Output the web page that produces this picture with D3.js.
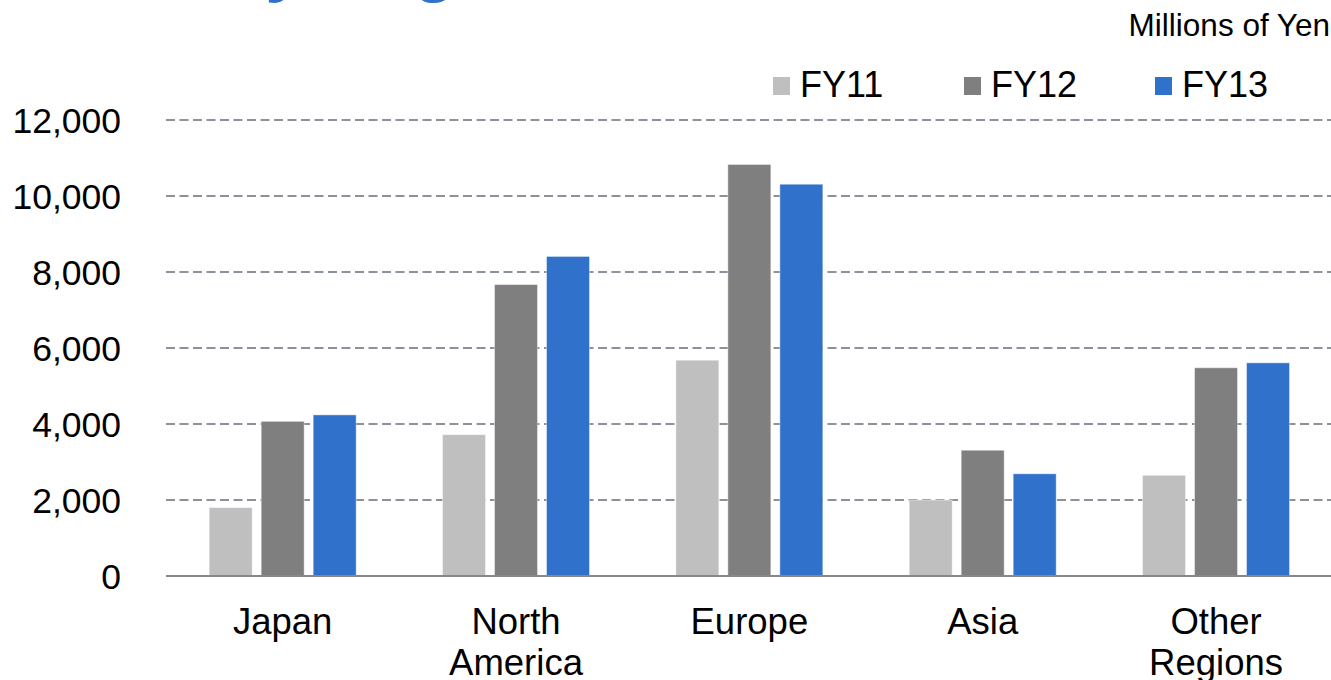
<!DOCTYPE html>
<html>
<head>
<meta charset="utf-8">
<script src="https://cdn.jsdelivr.net/npm/d3@7"></script>
<style>
  html, body { margin: 0; padding: 0; background: #fff; overflow: hidden; }
  svg { display: block; font-family: "Liberation Sans", Arial, sans-serif; }
</style>
</head>
<body>
<svg id="chart" width="1331" height="680"></svg>
<script>
// Net sales by region, millions of yen
const regions = ["Japan", "North America", "Europe", "Asia", "Other Regions"];
const years = ["FY11", "FY12", "FY13"];
const fy11 = [1800, 3720, 5680, 2000, 2650];
const fy12 = [4070, 7670, 10830, 3310, 5480];
const fy13 = [4240, 8410, 10310, 2690, 5610];
const yTicks = [0, 2000, 4000, 6000, 8000, 10000, 12000];
const colors = ["#bfbfbf", "#7f7f7f", "#3071cb"];

const seriesValues = [fy11, fy12, fy13];

const svg = d3.select("#chart");

const plot = { left: 166, right: 1332.7, top: 120, bottom: 576 };

const x0 = d3.scaleBand()
  .domain(regions)
  .range([plot.left, plot.right])
  .paddingInner(0.37)
  .paddingOuter(0.185);

const x1 = d3.scaleBand()
  .domain(years)
  .range([0, x0.bandwidth()])
  .paddingInner(0.173);

const y = d3.scaleLinear()
  .domain([0, 12000])
  .range([plot.bottom, plot.top]);

// Title (sits above the visible area)
svg.append("text")
  .attr("x", 20)
  .attr("y", -12)
  .attr("font-size", 70)
  .attr("font-weight", "bold")
  .attr("fill", "#3071cb")
  .text("Sales by Region");

// Unit note
svg.append("text")
  .attr("x", 1330)
  .attr("y", 36)
  .attr("text-anchor", "end")
  .attr("font-size", 31.5)
  .attr("fill", "#000")
  .text("Millions of Yen");

// Value axis labels
const yAxis = d3.axisLeft(y)
  .tickValues(yTicks)
  .tickSize(0)
  .tickPadding(45)
  .tickFormat(d3.format(","));

const yG = svg.append("g")
  .attr("transform", `translate(${plot.left},0)`)
  .call(yAxis);
yG.select(".domain").remove();
yG.selectAll(".tick text")
  .attr("font-size", 35.5)
  .attr("fill", "#000")
  .attr("font-family", "Liberation Sans, Arial, sans-serif")
  .attr("dy", "0.36em");

// Dashed gridlines
svg.append("g")
  .selectAll("line")
  .data(yTicks.filter(d => d > 0))
  .join("line")
  .attr("x1", plot.left)
  .attr("x2", plot.right)
  .attr("y1", d => y(d))
  .attr("y2", d => y(d))
  .attr("stroke", "#8c929b")
  .attr("stroke-width", 2)
  .attr("stroke-dasharray", "9,4.5");

// Bars
const groups = svg.append("g")
  .selectAll("g")
  .data(regions)
  .join("g")
  .attr("transform", d => `translate(${x0(d)},0)`);

groups.selectAll("rect")
  .data((d, i) => years.map((yr, k) => ({ yr, k, v: seriesValues[k][i] })))
  .join("rect")
  .attr("x", d => x1(d.yr))
  .attr("width", x1.bandwidth())
  .attr("y", d => y(d.v))
  .attr("height", d => y(0) - y(d.v))
  .attr("fill", d => colors[d.k])
  .attr("stroke", "rgba(255,255,255,0.45)")
  .attr("stroke-width", 1);

// Baseline axis
const xAxis = d3.axisBottom(x0).tickSize(0).tickFormat("");
const xG = svg.append("g")
  .attr("transform", `translate(0,${plot.bottom})`)
  .call(xAxis);
xG.select(".domain")
  .attr("stroke", "#888")
  .attr("stroke-width", 2)
  .attr("d", `M${plot.left},0H${plot.right}`);

// Category labels (wrapped on spaces)
const labelG = svg.append("g");
regions.forEach(r => {
  const words = r.split(" ");
  const t = labelG.append("text")
    .attr("text-anchor", "middle")
    .attr("font-size", 36.5)
    .attr("fill", "#000");
  words.forEach((w, i) => {
    t.append("tspan")
      .attr("x", x0(r) + x0.bandwidth() / 2)
      .attr("y", 634 + i * 41)
      .text(w);
  });
});

// Legend
const legend = svg.append("g");
const legendX = [773, 964, 1155];
years.forEach((yr, k) => {
  legend.append("rect")
    .attr("x", legendX[k])
    .attr("y", 77)
    .attr("width", 17)
    .attr("height", 18)
    .attr("fill", colors[k]);
  legend.append("text")
    .attr("x", legendX[k] + 27)
    .attr("y", 97)
    .attr("font-size", 36)
    .attr("fill", "#000")
    .text(yr);
});
</script>
</body>
</html>
